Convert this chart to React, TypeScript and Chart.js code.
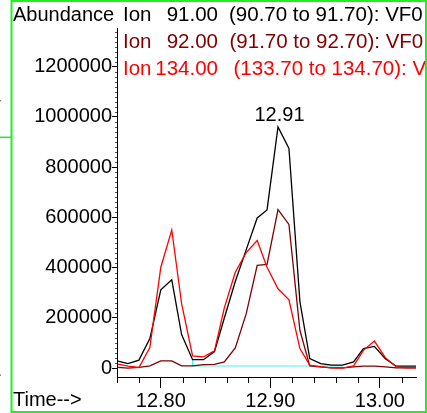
import React, { useEffect, useRef } from 'react';
import { Chart, registerables } from 'chart.js';

Chart.register(...registerables);

// Scan times (min)
const scanTimes = [
  12.761, 12.770, 12.780, 12.790, 12.800, 12.810, 12.819, 12.829, 12.839, 12.849,
  12.858, 12.868, 12.878, 12.888, 12.897, 12.907, 12.917, 12.927, 12.936, 12.946,
  12.956, 12.966, 12.976, 12.985, 12.995, 13.005, 13.015, 13.024, 13.033,
];

// Ion 91.00 (black)
const ion91 = [
  28000, 18000, 32000, 118000, 312000, 352000, 134000, 34000, 34000, 66000,
  200000, 345000, 472000, 598000, 630000, 960000, 875000, 265000, 38000, 18000,
  12000, 12000, 25000, 78000, 87000, 38000, 8000, 8000, 8000,
];

// Ion 92.00 (dark red)
const ion92 = [
  3000, 0, 3000, 9000, 29000, 29000, 9000, 9000, 14000, 15000,
  25000, 81000, 217000, 409000, 413000, 631000, 572000, 151000, 9000, 5000,
  1000, 1000, 5000, 8000, 8000, 5000, 1000, 1000, 1000,
];

// Ion 134.00 (red)
const ion134 = [
  16000, 8000, 3000, 82000, 402000, 550000, 257000, 49000, 45000, 69000,
  240000, 382000, 460000, 508000, 402000, 316000, 272000, 78000, 12000, 5000,
  1000, 0, 9000, 71000, 108000, 42000, 5000, 1000, 1000,
];

// Integration baseline (cyan)
const baselineTimes = [12.829, 12.829, 12.966];
const baselineValues = [34000, 8700, 8700];

const yTickValues = [0, 200000, 400000, 600000, 800000, 1000000, 1200000];
const yMinorStep = 20000;
const xTickValues = [12.8, 12.9, 13.0];
const xMinorTickValues = [12.76, 12.78, 12.82, 12.84, 12.86, 12.88, 12.92, 12.94, 12.96, 12.98, 13.02];

const legendIons = ['91.00', '92.00', '134.00'];
const legendRanges = ['(90.70 to 91.70): VF0', '(91.70 to 92.70): VF0', '(133.70 to 134.70): VF0'];
const legendColors = ['#000000', '#800000', '#ff0000'];

const FONT = '"Liberation Sans", Arial, sans-serif';

const overlayPlugin = {
  id: 'overlay',
  afterDraw(chart: any) {
    const ctx = chart.ctx;
    const xs = chart.scales.x;
    const ys = chart.scales.y;
    ctx.save();

    // minor y ticks
    ctx.strokeStyle = '#555';
    ctx.lineWidth = 1;
    const left = chart.chartArea.left;
    for (let v = 0; v <= ys.max; v += yMinorStep) {
      if (v % 200000 === 0) continue;
      const py = Math.round(ys.getPixelForValue(v)) + 0.5;
      ctx.beginPath();
      ctx.moveTo(left - 2, py);
      ctx.lineTo(left, py);
      ctx.stroke();
    }
    // minor x ticks
    ctx.strokeStyle = '#000';
    const bottom = chart.chartArea.bottom;
    xMinorTickValues.forEach((v) => {
      const px = Math.round(xs.getPixelForValue(v)) + 0.5;
      ctx.beginPath();
      ctx.moveTo(px, bottom);
      ctx.lineTo(px, bottom + 6);
      ctx.stroke();
    });

    // Texts
    ctx.fillStyle = '#000';
    ctx.font = '20px ' + FONT;
    ctx.textAlign = 'left';
    ctx.textBaseline = 'alphabetic';
    ctx.fillText('Abundance', 13, 20.7);
    ctx.fillText('Time-->', 13, 406);

    // peak label
    let mi = 0;
    ion91.forEach((v, i) => { if (v > ion91[mi]) mi = i; });
    const pxp = xs.getPixelForValue(scanTimes[mi]);
    const pyp = ys.getPixelForValue(ion91[mi]);
    ctx.textAlign = 'center';
    ctx.fillText(scanTimes[mi].toFixed(2), pxp + 1.5, pyp - 6);

    // legend
    ctx.beginPath();
    ctx.rect(0, 0, 425, 413);
    ctx.clip();
    ctx.font = '20.5px ' + FONT;
    const baselines = [20.7, 48.2, 75];
    const parenX = [229, 229.5, 233.5];
    legendIons.forEach((ion, i) => {
      ctx.fillStyle = legendColors[i];
      ctx.textAlign = 'left';
      ctx.fillText('Ion', 123, baselines[i]);
      ctx.textAlign = 'right';
      ctx.fillText(ion, 218, baselines[i]);
      ctx.textAlign = 'left';
      ctx.fillText(legendRanges[i], parenX[i], baselines[i]);
    });
    ctx.restore();

    // green frame
    ctx.save();
    ctx.strokeStyle = '#22ee22';
    ctx.lineWidth = 2;
    ctx.beginPath();
    ctx.moveTo(11.5, 0);
    ctx.lineTo(11.5, 413);
    ctx.moveTo(10.5, 1);
    ctx.lineTo(427, 1);
    ctx.moveTo(426, 0);
    ctx.lineTo(426, 413);
    ctx.moveTo(10.5, 412);
    ctx.lineTo(427, 412);
    ctx.stroke();
    ctx.lineWidth = 1.5;
    ctx.beginPath();
    ctx.moveTo(0, 137.3);
    ctx.lineTo(11, 137.3);
    ctx.stroke();
    ctx.fillStyle = '#888';
    ctx.fillRect(0, 100, 1, 1.5);
    ctx.fillRect(0, 374.5, 1, 1.5);
    ctx.restore();
  },
};

export default function App() {
  const ref = useRef<HTMLCanvasElement | null>(null);

  useEffect(() => {
    if (!ref.current) return;
    const mk = (vals: number[]) => vals.map((v, i) => ({ x: scanTimes[i], y: v }));
    const chart = new Chart(ref.current, {
      type: 'line',
      data: {
        datasets: [
          { label: 'Ion 134.00', data: mk(ion134), borderColor: '#ff0000', borderWidth: 1.3, pointRadius: 0, order: 0 },
          { label: 'Ion 92.00', data: mk(ion92), borderColor: '#800000', borderWidth: 1.3, pointRadius: 0, order: 1 },
          { label: 'Ion 91.00', data: mk(ion91), borderColor: '#000000', borderWidth: 1.3, pointRadius: 0, order: 2 },
          {
            label: 'baseline',
            data: baselineTimes.map((t, i) => ({ x: t, y: baselineValues[i] })),
            borderColor: '#4ff2f2', borderWidth: 1.2, pointRadius: 0, order: 3,
          },
        ],
      },
      options: {
        animation: false,
        responsive: false,
        devicePixelRatio: 1,
        layout: { padding: { top: 28, right: 11, left: 0, bottom: 0 } },
        plugins: { legend: { display: false }, tooltip: { enabled: false }, title: { display: false } },
        elements: { line: { tension: 0 } },
        scales: {
          x: {
            type: 'linear',
            min: 12.76,
            max: 13.033,
            afterBuildTicks: (s: any) => { s.ticks = xTickValues.map((v) => ({ value: v })); },
            afterFit: (s: any) => { s.height = 36; },
            grid: { drawOnChartArea: false, drawTicks: true, tickLength: 11, tickColor: '#000', tickWidth: 1 },
            border: { display: true, color: '#000', width: 1 },
            ticks: {
              autoSkip: false,
              maxRotation: 0,
              padding: 1,
              color: '#000',
              font: { family: FONT, size: 20 },
              callback: (v: any) => Number(v).toFixed(2),
            },
          },
          y: {
            type: 'linear',
            min: -35000,
            max: 1354000,
            afterBuildTicks: (s: any) => { s.ticks = yTickValues.map((v) => ({ value: v })); },
            afterFit: (s: any) => { s.width = 117; },
            grid: { drawOnChartArea: false, drawTicks: true, tickLength: 5, tickColor: '#000', tickWidth: 1 },
            border: { display: true, color: '#000', width: 1 },
            ticks: {
              autoSkip: false,
              padding: 0,
              color: '#000',
              font: { family: FONT, size: 20 },
              callback: (v: any) => String(v),
            },
          },
        },
      },
      plugins: [overlayPlugin],
    });
    return () => chart.destroy();
  }, []);

  return (
    <div style={{ position: 'absolute', left: 0, top: 0, width: 427, height: 413, background: '#fff' }}>
      <canvas ref={ref} width={427} height={413} style={{ width: 427, height: 413, display: 'block' }} />
    </div>
  );
}
